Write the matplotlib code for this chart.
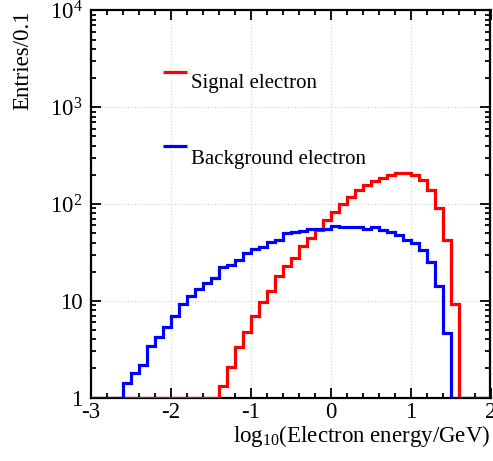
import numpy as np
import matplotlib
matplotlib.use("Agg")
import matplotlib.pyplot as plt
from matplotlib.ticker import FixedLocator, LogLocator, MultipleLocator, NullFormatter

plt.rcParams["font.family"] = ["Liberation Serif", "DejaVu Serif"]
plt.rcParams["mathtext.fontset"] = "custom"
plt.rcParams["mathtext.rm"] = "Liberation Serif"
plt.rcParams["mathtext.it"] = "Liberation Serif:italic"

# Bin edges in log10(E/GeV), 0.1 wide from -3 to 2
bin_edges = np.round(np.arange(-3.0, 2.0001, 0.1), 1)

# Entries per bin (50 bins)
signal_counts = [
    0, 0, 0, 0, 0, 0, 0, 0, 0, 0,            # -3.0 .. -2.1
    0, 0, 0, 0, 0, 0, 1.32, 2.08, 3.36, 4.74,  # -2.0 .. -1.1
    6.9, 9.6, 12.7, 18.0, 22.8, 27.7, 37.2, 44.7, 54.4, 69.0,  # -1.0 .. -0.1
    83.0, 100.6, 117.7, 141.0, 155.5, 172.0, 186.6, 200.7, 209.0, 209.0,  # 0.0 .. 0.9
    199.0, 176.5, 138.0, 90.5, 42.9, 9.25, 0, 0, 0, 0,  # 1.0 .. 1.9
]
background_counts = [
    0, 0, 0, 0, 1.42, 1.8, 2.19, 3.4, 4.2, 5.4,  # -3.0 .. -2.1
    6.9, 9.2, 11.3, 13.2, 15.4, 17.2, 22.2, 23.6, 26.3, 31.2,  # -2.0 .. -1.1
    34.3, 36.0, 40.2, 42.9, 50.3, 51.9, 53.1, 54.8, 55.3, 55.6,  # -1.0 .. -0.1
    59.0, 57.7, 57.5, 58.3, 55.3, 57.5, 53.5, 51.9, 48.0, 42.9,  # 0.0 .. 0.9
    39.6, 33.8, 24.9, 14.1, 4.65, 0, 0, 0, 0, 0,  # 1.0 .. 1.9
]

series_labels = ["Signal electron", "Background electron"]
series_colors = ["#ff0000", "#0000ff"]

y_min, y_max = 1, 1e4
x_min, x_max = -3, 2
x_ticks = [-3, -2, -1, 0, 1, 2]
x_tick_labels = ["-3", "-2", "-1", "0", "1", "2"]
y_ticks = [1, 10, 100, 1000, 10000]
y_tick_labels = ["1", "10", r"$\mathregular{10^{2}}$", r"$\mathregular{10^{3}}$",
                 r"$\mathregular{10^{4}}$"]

fig = plt.figure(figsize=(4.93, 4.61), dpi=100)
ax = fig.add_axes([91 / 493, 1 - 397.5 / 461, 399.5 / 493, 387 / 461])

ax.set_yscale("log")
ax.set_xlim(x_min, x_max)
ax.set_ylim(y_min, y_max)

# Empty bins sit on the lower frame edge
sig = np.clip(np.asarray(signal_counts, float), y_min, None)
bkg = np.clip(np.asarray(background_counts, float), y_min, None)
ax.stairs(sig, bin_edges, color=series_colors[0], lw=2.3, zorder=3)
ax.stairs(bkg, bin_edges, color=series_colors[1], lw=2.3, zorder=4)

# Grid at major ticks
ax.grid(True, which="major", color="#d0d0d0", linestyle=(0, (1, 2)), lw=0.8)

ax.xaxis.set_major_locator(FixedLocator(x_ticks))
ax.set_xticklabels(x_tick_labels)
ax.xaxis.set_minor_locator(MultipleLocator(0.2))
ax.yaxis.set_major_locator(FixedLocator(y_ticks))
ax.set_yticklabels(y_tick_labels)
ax.yaxis.set_minor_locator(LogLocator(base=10, subs=np.arange(2, 10)))
ax.yaxis.set_minor_formatter(NullFormatter())

ax.tick_params(which="both", direction="in", top=True, right=True,
               width=1.3, color="black", labelsize=16.5)
ax.tick_params(which="major", length=7)
ax.tick_params(which="minor", length=3.8)
ax.tick_params(axis="x", pad=3)
ax.tick_params(axis="y", pad=6)

for s in ax.spines.values():
    s.set_linewidth(1.6)

ax.set_xlabel(r"$\mathregular{log_{10}}$(Electron energy/GeV)", fontsize=16.5,
              loc="right", labelpad=0)
ax.set_ylabel("Entries/0.1", fontsize=16.5, loc="top", labelpad=12)

# Legend entries
legend_rows = [(0.840, 0.799), (0.651, 0.603)]
for (ly, ty), lab, col in zip(legend_rows, series_labels, series_colors):
    ax.plot([0.180, 0.241], [ly, ly], color=col, lw=2.3, transform=ax.transAxes,
            solid_capstyle="butt", zorder=5)
    ax.text(0.250, ty, lab, transform=ax.transAxes, fontsize=15,
            ha="left", va="baseline", zorder=5)

fig.savefig("out.png", dpi=100)
